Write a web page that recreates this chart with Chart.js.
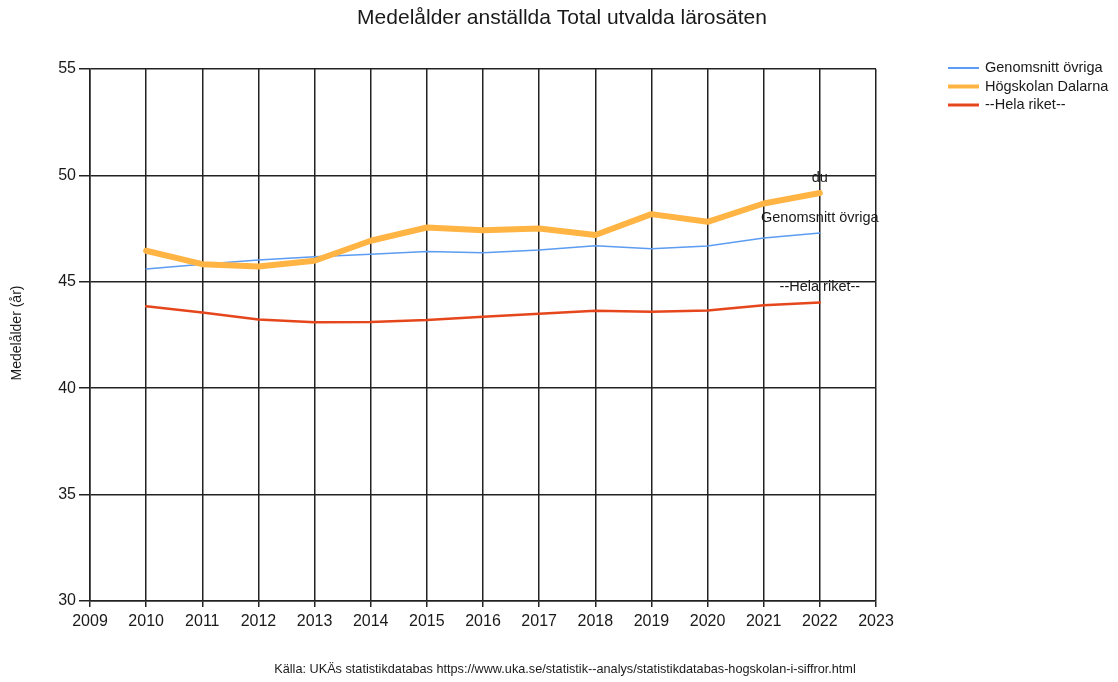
<!DOCTYPE html>
<html>
<head>
<meta charset="utf-8">
<script src="https://cdn.jsdelivr.net/npm/chart.js@4/dist/chart.umd.min.js"></script>
<style>
  html, body { margin: 0; padding: 0; background: #fff; }
  #wrap { width: 1118px; height: 682px; position: relative; }
</style>
</head>
<body>
<div id="wrap"><canvas id="chart" width="1118" height="682"></canvas></div>
<script>
// Data
const years = [2010, 2011, 2012, 2013, 2014, 2015, 2016, 2017, 2018, 2019, 2020, 2021, 2022];
const genomsnittOvriga = [45.6, 45.83, 46.03, 46.18, 46.3, 46.42, 46.37, 46.49, 46.69, 46.55, 46.68, 47.06, 47.29];
const hogskolanDalarna = [46.46, 45.83, 45.72, 45.99, 46.93, 47.55, 47.42, 47.5, 47.2, 48.18, 47.82, 48.68, 49.17];
const helaRiket = [43.85, 43.56, 43.23, 43.1, 43.11, 43.2, 43.36, 43.5, 43.64, 43.59, 43.65, 43.9, 44.03];
const endLabels = ['Genomsnitt övriga', 'du', '--Hela riket--'];

const seriesNames = ['Genomsnitt övriga', 'Högskolan Dalarna', '--Hela riket--'];
const seriesColors = ['#5c9cf2', '#ffb444', '#e6461c'];
const seriesWidths = [1.5, 6, 2.5];
const legendWidths = [2, 4, 3];

const FONT = '"Liberation Sans", Arial, sans-serif';
const TEXT = '#1a1a1a';

function toPoints(values) {
    return years.map((y, i) => ({ x: y, y: values[i] }));
}

// Titel, legend, etiketter och källa ritas direkt på canvas
const decorations = {
    id: 'decorations',
    afterDraw(chart) {
        const ctx = chart.ctx;
        ctx.save();
        ctx.fillStyle = TEXT;
        ctx.textBaseline = 'middle';

        // Titel
        ctx.font = '21px ' + FONT;
        ctx.textAlign = 'center';
        ctx.fillText('Medelålder anställda Total utvalda lärosäten', 562, 18);

        // Y-axelns titel
        ctx.save();
        ctx.translate(17, 333);
        ctx.rotate(-Math.PI / 2);
        ctx.font = '14px ' + FONT;
        ctx.fillText('Medelålder (år)', 0, 0);
        ctx.restore();

        // Legend
        ctx.font = '14.5px ' + FONT;
        ctx.textAlign = 'left';
        seriesNames.forEach((name, i) => {
            const y = 68 + i * 18.5;
            ctx.strokeStyle = seriesColors[i];
            ctx.lineWidth = legendWidths[i];
            ctx.beginPath();
            ctx.moveTo(948, y);
            ctx.lineTo(979, y);
            ctx.stroke();
            ctx.fillStyle = TEXT;
            ctx.fillText(name, 985, y);
        });

        // Etiketter vid sista punkten
        ctx.font = '14.5px ' + FONT;
        ctx.textAlign = 'center';
        chart.data.datasets.forEach((ds, i) => {
            const meta = chart.getDatasetMeta(i);
            const last = meta.data[meta.data.length - 1];
            if (!last) return;
            ctx.fillText(endLabels[i], last.x, last.y - 15);
        });

        // Källa
        ctx.font = '12.7px ' + FONT;
        ctx.fillText('Källa: UKÄs statistikdatabas https://www.uka.se/statistik--analys/statistikdatabas-hogskolan-i-siffror.html', 565, 669);
        ctx.restore();
    }
};

const ctx = document.getElementById('chart').getContext('2d');
new Chart(ctx, {
    type: 'line',
    data: {
        datasets: [
            {
                label: seriesNames[0],
                data: toPoints(genomsnittOvriga),
                borderColor: seriesColors[0],
                borderWidth: seriesWidths[0],
                order: 1
            },
            {
                label: seriesNames[1],
                data: toPoints(hogskolanDalarna),
                borderColor: seriesColors[1],
                borderWidth: seriesWidths[1],
                order: 0
            },
            {
                label: seriesNames[2],
                data: toPoints(helaRiket),
                borderColor: seriesColors[2],
                borderWidth: seriesWidths[2],
                order: 2
            }
        ]
    },
    options: {
        responsive: false,
        animation: false,
        devicePixelRatio: 1,
        elements: {
            point: { radius: 0, hoverRadius: 0 },
            line: { tension: 0, borderCapStyle: 'round', borderJoinStyle: 'round' }
        },
        layout: { padding: { left: 0, right: 242, top: 69, bottom: 46 } },
        plugins: {
            legend: { display: false },
            tooltip: { enabled: false },
            title: { display: false }
        },
        scales: {
            x: {
                type: 'linear',
                min: 2009,
                max: 2023,
                afterFit(scale) { scale.height = 35; },
                ticks: {
                    stepSize: 1,
                    color: TEXT,
                    font: { family: FONT, size: 16 },
                    padding: 5,
                    maxRotation: 0,
                    callback: v => String(v)
                },
                grid: { color: '#222', lineWidth: 1.5, tickLength: 6 },
                border: { color: '#222', width: 1.5 }
            },
            y: {
                min: 30,
                max: 55,
                afterFit(scale) { scale.width = 90; },
                ticks: {
                    stepSize: 5,
                    color: TEXT,
                    font: { family: FONT, size: 16 },
                    padding: 3
                },
                grid: { color: '#222', lineWidth: 1.5, tickLength: 11 },
                border: { color: '#222', width: 1.5 }
            }
        }
    },
    plugins: [decorations]
});
</script>
</body>
</html>
